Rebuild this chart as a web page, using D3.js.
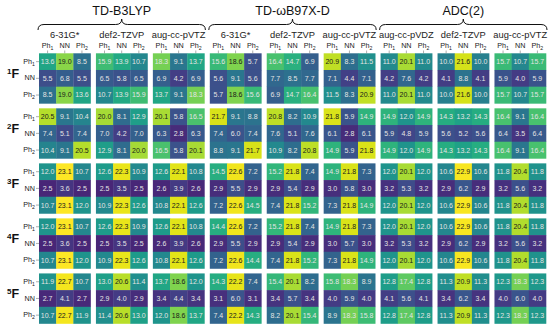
<!DOCTYPE html>
<html>
<head>
<meta charset="utf-8">
<script src="https://cdn.jsdelivr.net/npm/d3@7"></script>
<style>
html,body{margin:0;padding:0;background:#fff;}
svg{display:block;font-family:"Liberation Sans",Arial,sans-serif;}
</style>
</head>
<body>
<svg id="chart" width="550" height="335"></svg>
<script>
// ---------------- data ----------------
const methods = ["TD-B3LYP", "TD-\u03c9B97X-D", "ADC(2)"];
const basisSets = ["6-31G*", "def2-TZVP", "aug-cc-pVTZ",
                   "6-31G*", "def2-TZVP", "aug-cc-pVTZ",
                   "aug-cc-pVDZ", "def2-TZVP", "aug-cc-pVTZ"];
const colLabels = ["Ph1", "NN", "Ph2"];
const rowLabels = ["Ph1", "NN", "Ph2"];
const states = ["1", "2", "3", "4", "5"];

const F1 = [
 [13.6,19.0,8.5, 15.9,13.9,10.7, 18.3,9.1,13.7, 15.6,18.6,5.7, 16.4,14.7,6.9, 20.9,8.3,11.5, 11.0,20.1,11.0, 10.0,21.6,10.0, 15.7,10.7,15.7],
 [5.5,6.8,5.5, 6.5,5.8,6.5, 6.9,4.2,6.9, 5.6,9.1,5.6, 7.7,8.5,7.7, 7.1,4.4,7.1, 4.2,7.6,4.2, 4.1,8.8,4.1, 5.9,4.0,5.9],
 [8.5,19.0,13.6, 10.7,13.9,15.9, 13.7,9.1,18.3, 5.7,18.6,15.6, 6.9,14.7,16.4, 11.5,8.3,20.9, 11.0,20.1,11.0, 10.0,21.6,10.0, 15.7,10.7,15.7]
];
const F2 = [
 [20.5,9.1,10.4, 20.0,8.1,12.9, 20.1,5.8,16.5, 21.7,9.1,8.8, 20.8,8.2,10.9, 21.8,5.9,14.9, 14.9,12.0,14.9, 14.3,13.2,14.3, 16.4,9.1,16.4],
 [7.4,5.1,7.4, 7.0,4.2,7.0, 6.3,2.8,6.3, 7.4,6.0,7.4, 7.6,5.1,7.6, 6.1,2.8,6.1, 5.9,4.8,5.9, 5.6,5.2,5.6, 6.4,3.5,6.4],
 [10.4,9.1,20.5, 12.9,8.1,20.0, 16.5,5.8,20.1, 8.8,9.1,21.7, 10.9,8.2,20.8, 14.9,5.9,21.8, 14.9,12.0,14.9, 14.3,13.2,14.3, 16.4,9.1,16.4]
];
const F3 = [
 [12.0,23.1,10.7, 12.6,22.3,10.9, 12.6,22.1,10.8, 14.5,22.6,7.2, 15.2,21.8,7.4, 14.9,21.8,7.3, 12.0,20.1,12.0, 10.6,22.9,10.6, 11.8,20.4,11.8],
 [2.5,3.6,2.5, 2.5,3.5,2.5, 2.6,3.9,2.6, 2.9,5.5,2.9, 2.9,5.4,2.9, 3.0,5.8,3.0, 3.2,5.3,3.2, 2.9,6.2,2.9, 3.2,5.6,3.2],
 [10.7,23.1,12.0, 10.9,22.3,12.6, 10.8,22.1,12.6, 7.2,22.6,14.5, 7.4,21.8,15.2, 7.3,21.8,14.9, 12.0,20.1,12.0, 10.6,22.9,10.6, 11.8,20.4,11.8]
];
const F4 = [
 [12.0,23.1,10.7, 12.6,22.3,10.9, 12.6,22.1,10.8, 14.4,22.6,7.2, 15.2,21.8,7.4, 14.9,21.8,7.3, 12.0,20.1,12.0, 10.6,22.9,10.6, 11.8,20.4,11.8],
 [2.5,3.6,2.5, 2.5,3.5,2.5, 2.6,3.9,2.6, 2.9,5.5,2.9, 2.9,5.4,2.9, 3.0,5.7,3.0, 3.2,5.3,3.2, 2.9,6.2,2.9, 3.2,5.6,3.2],
 [10.7,23.1,12.0, 10.9,22.3,12.6, 10.8,22.1,12.6, 7.2,22.6,14.4, 7.4,21.8,15.2, 7.3,21.8,14.9, 12.0,20.1,12.0, 10.6,22.9,10.6, 11.8,20.4,11.8]
];
const F5 = [
 [11.9,22.7,10.7, 13.0,20.6,11.4, 13.7,18.6,12.0, 14.3,22.2,7.4, 15.4,20.1,8.2, 15.8,18.3,8.9, 12.8,17.4,12.8, 11.3,20.9,11.3, 12.3,18.3,12.3],
 [2.7,4.1,2.7, 2.9,4.0,2.9, 3.4,4.4,3.4, 3.1,6.0,3.1, 3.4,5.7,3.4, 4.0,5.9,4.0, 4.1,5.6,4.1, 3.4,6.2,3.4, 4.0,6.0,4.0],
 [10.7,22.7,11.9, 11.4,20.6,13.0, 12.0,18.6,13.7, 7.4,22.2,14.3, 8.2,20.1,15.4, 8.9,18.3,15.8, 12.8,17.4,12.8, 11.3,20.9,11.3, 12.3,18.3,12.3]
];
const stateValues = [F1, F2, F3, F4, F5];

// ---------------- layout ----------------
const svg = d3.select("#chart");
const groupIdx = d3.range(basisSets.length);
const xGroup = d3.scaleBand().domain(groupIdx).range([39, 546]).paddingInner(0.095);
const xInner = d3.scaleBand().domain(d3.range(3)).range([0, xGroup.bandwidth()]);
const yGroup = d3.scaleBand().domain(d3.range(states.length)).range([53.3, 323.5]).paddingInner(0.09);
const yInner = d3.scaleBand().domain(d3.range(3)).range([0, yGroup.bandwidth()]);
const color = d3.scaleSequential(d3.interpolateViridis).domain([0, 23.1]);

// cells
const cells = [];
stateValues.forEach((rows, s) => {
  rows.forEach((row, r) => {
    row.forEach((v, c) => {
      cells.push({s, r, g: Math.floor(c / 3), k: c % 3, v});
    });
  });
});
const cx = d => xGroup(d.g) + xInner(d.k);
const cy = d => yGroup(d.s) + yInner(d.r);

svg.append("g").selectAll("rect").data(cells).join("rect")
  .attr("x", cx).attr("y", cy)
  .attr("width", xInner.bandwidth() + 0.3)
  .attr("height", yInner.bandwidth() + 0.3)
  .attr("fill", d => color(d.v));

svg.append("g").selectAll("text").data(cells).join("text")
  .attr("x", d => cx(d) + xInner.bandwidth() / 2)
  .attr("y", d => cy(d) + yInner.bandwidth() / 2)
  .attr("dy", "0.35em")
  .attr("text-anchor", "middle")
  .attr("font-size", 7)
  .attr("fill", d => d.v >= 18.5 ? "#1a1a1a" : "#e4e4e4")
  .text(d => d.v.toFixed(1));

// subscript label helper
function phLabel(sel, lab, fs) {
  if (lab === "NN") { sel.text("NN"); return; }
  sel.text("Ph");
  sel.append("tspan").attr("font-size", fs * 0.72).attr("dy", fs * 0.28).text(lab.slice(2));
}

// column labels + ticks
const topG = svg.append("g");
groupIdx.forEach(g => {
  d3.range(3).forEach(k => {
    const x = xGroup(g) + xInner(k) + xInner.bandwidth() / 2;
    const t = topG.append("text").attr("x", x).attr("y", 47.5)
      .attr("text-anchor", "middle").attr("font-size", 7.2).attr("fill", "#222");
    phLabel(t, colLabels[k], 7.2);
    topG.append("line").attr("x1", x).attr("x2", x).attr("y1", 50.5).attr("y2", 53.3)
      .attr("stroke", "#777").attr("stroke-width", 0.6);
  });
  topG.append("text").attr("x", xGroup(g) + xGroup.bandwidth() / 2).attr("y", 37.5)
    .attr("text-anchor", "middle").attr("font-size", 9.3).attr("fill", "#222")
    .text(basisSets[g]);
});

// method titles and braces
methods.forEach((m, i) => {
  const x1 = xGroup(i * 3) - 1, x2 = xGroup(i * 3 + 2) + xGroup.bandwidth() + 1;
  const xm = (x1 + x2) / 2;
  topG.append("text").attr("x", xm).attr("y", 15).attr("text-anchor", "middle")
    .attr("font-size", 12.5).attr("fill", "#111").text(m);
  const yb = 30, ym = 24.5, yt = 19, r = 6;
  const p = `M${x1},${yb} Q${x1},${ym} ${x1 + r},${ym} L${xm - r},${ym} Q${xm},${ym} ${xm},${yt} Q${xm},${ym} ${xm + r},${ym} L${x2 - r},${ym} Q${x2},${ym} ${x2},${yb}`;
  topG.append("path").attr("d", p).attr("fill", "none").attr("stroke", "#111").attr("stroke-width", 1);
});

// row labels + ticks
const leftG = svg.append("g");
states.forEach((st, s) => {
  d3.range(3).forEach(r => {
    const y = yGroup(s) + yInner(r) + yInner.bandwidth() / 2;
    const t = leftG.append("text").attr("x", 35).attr("y", y).attr("dy", "0.3em")
      .attr("text-anchor", "end").attr("font-size", 7.2).attr("fill", "#222");
    phLabel(t, rowLabels[r], 7.2);
    leftG.append("line").attr("x1", 36).attr("x2", 39).attr("y1", y).attr("y2", y)
      .attr("stroke", "#777").attr("stroke-width", 0.6);
  });
  const yc = yGroup(s) + yInner(1) + yInner.bandwidth() / 2;
  const t = leftG.append("text").attr("x", 7).attr("y", yc).attr("dy", "0.38em")
    .attr("font-size", 12.5).attr("font-weight", "bold").attr("fill", "#111");
  t.append("tspan").attr("font-size", 8).attr("dy", "-0.55em").text(st);
  t.append("tspan").attr("dy", "0.3em").text("F");
});
</script>
</body>
</html>
